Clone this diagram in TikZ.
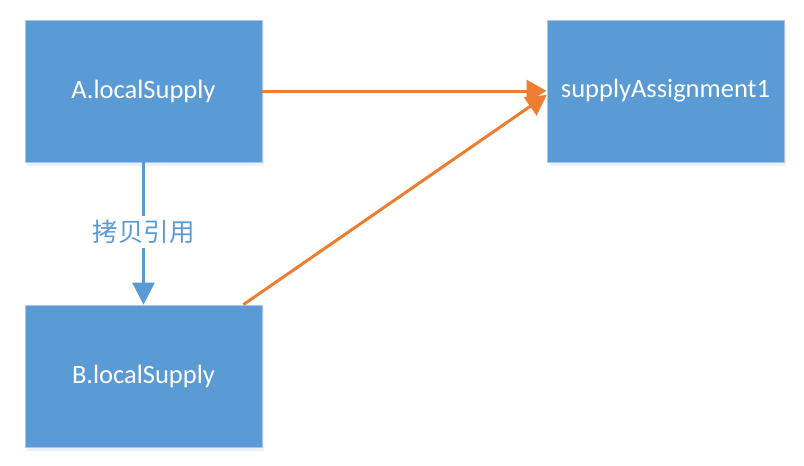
\documentclass[tikz,border=0pt]{standalone}
\usepackage{fontspec}
\setmainfont{Carlito}
\newfontfamily\cjk{Noto Sans CJK SC}
\usetikzlibrary{arrows.meta,shadows}
\definecolor{boxblue}{HTML}{5B9BD5}
\definecolor{boxedge}{HTML}{A9C4E4}
\definecolor{arrorange}{HTML}{ED7D31}
\tikzset{
  box/.style={draw=boxedge, line width=0.8pt, fill=boxblue, minimum width=237pt, minimum height=142pt,
    inner sep=0pt, font=\fontsize{26.5}{30}\selectfont, text=white,
    drop shadow={shadow xshift=2pt, shadow yshift=-4pt, opacity=0.12, fill=boxblue}},
  orangearrow/.style={draw=arrorange, line width=3pt, -{Triangle[length=20pt,width=22pt]}},
  bluearrow/.style={draw=boxblue, line width=3pt, -{Triangle[length=22pt,width=22pt]}},
  lbl/.style={fill=white, text=boxblue, inner sep=4pt, font=\cjk\fontsize{25.5}{28}\selectfont}
}
\begin{document}
\begin{tikzpicture}[x=1pt,y=-1pt]
\useasboundingbox (0,0) rectangle (804,466);
\node[box] (A) at (143.5,91) {A.localSupply};
\node[box] (B) at (143.5,376) {B.localSupply};
\node[box] (C) at (665.5,91) {supplyAssignment1};
\coordinate (Ctip2) at ([yshift=-4pt]C.west);
\coordinate (Bstart) at ([xshift=-19pt]B.north east);
\draw[orangearrow] (A.east) -- (C.west);
\draw[orangearrow] (Bstart) -- (Ctip2);
\draw[bluearrow] (A.south) -- node[lbl, pos=0.49] (L) {拷贝引用} (B.north);
\end{tikzpicture}
\end{document}
